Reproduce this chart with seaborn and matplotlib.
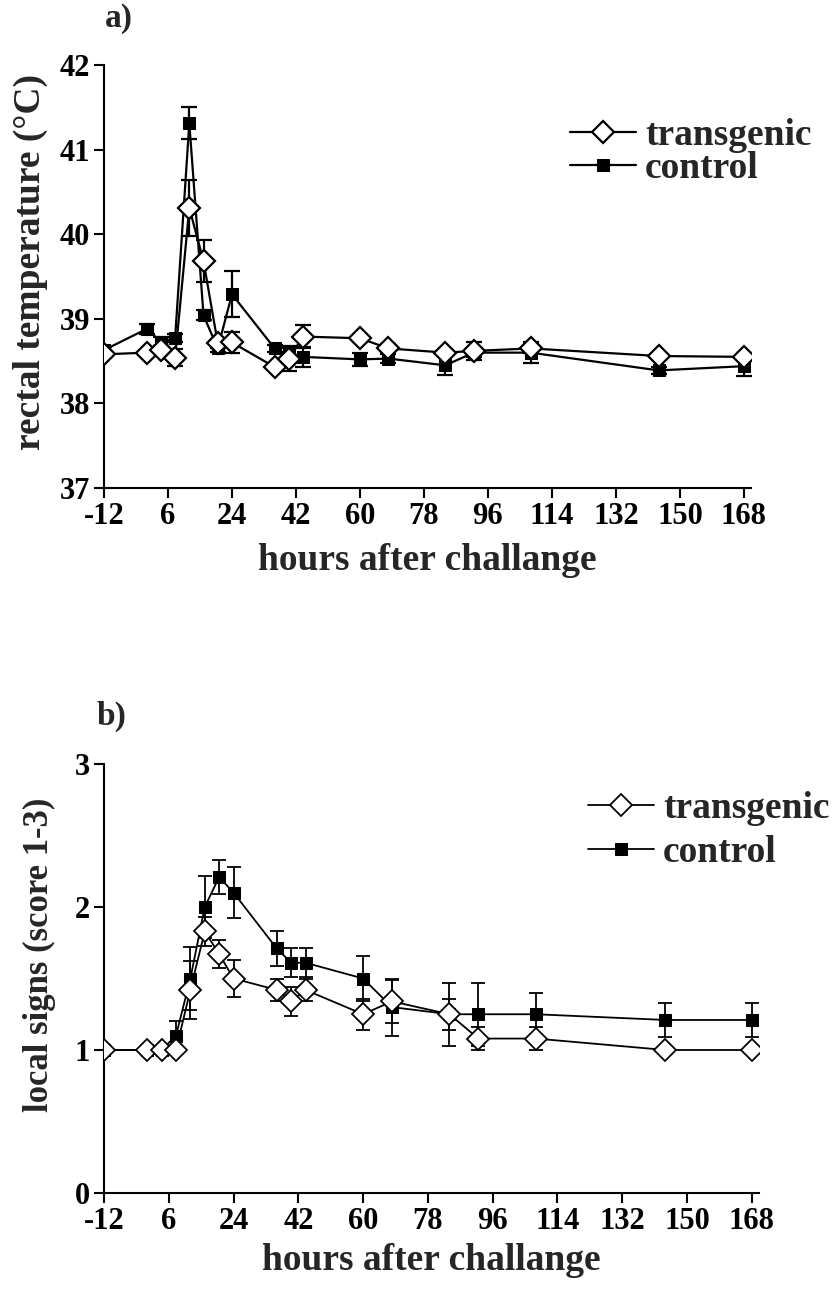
import matplotlib
matplotlib.use("Agg")
import matplotlib.pyplot as plt
import seaborn as sns
import pandas as pd

# sampling times (hours relative to challenge)
hours = [-12, 0, 4, 8, 12, 16, 20, 24, 36, 40, 44, 60, 68, 84, 92, 108, 144, 168]

# a) rectal temperature, mean and SEM
temp_transgenic = [38.58, 38.60, 38.63, 38.54, 40.31, 39.68, 38.71, 38.72, 38.43, 38.53,
                   38.79, 38.77, 38.65, 38.60, 38.62, 38.65, 38.56, 38.55]
temp_transgenic_err = [0.03, 0.03, 0.05, 0.10, 0.33, 0.25, 0.05, 0.12, 0.04, 0.15,
                       0.14, 0.04, 0.05, 0.04, 0.11, 0.06, 0.04, 0.04]
temp_control = [38.63, 38.88, 38.73, 38.77, 41.31, 39.04, 38.65, 39.29, 38.65, 38.57,
                38.55, 38.52, 38.53, 38.45, 38.60, 38.60, 38.39, 38.44]
temp_control_err = [0.04, 0.06, 0.05, 0.05, 0.19, 0.06, 0.04, 0.27, 0.04, 0.08,
                    0.12, 0.08, 0.05, 0.11, 0.05, 0.12, 0.04, 0.12]

# b) local signs score, mean and SEM
score_transgenic = [1.0, 1.0, 1.0, 1.0, 1.42, 1.83, 1.67, 1.50, 1.42, 1.34,
                    1.42, 1.25, 1.34, 1.25, 1.08, 1.08, 1.0, 1.0]
score_transgenic_err = [0, 0, 0, 0, 0.20, 0.10, 0.10, 0.13, 0.08, 0.10,
                        0.08, 0.11, 0.15, 0.22, 0.08, 0.08, 0, 0]
score_control = [1.0, 1.0, 1.0, 1.10, 1.50, 2.0, 2.21, 2.10, 1.71, 1.61,
                 1.61, 1.50, 1.30, 1.25, 1.25, 1.25, 1.21, 1.21]
score_control_err = [0, 0, 0, 0.10, 0.22, 0.22, 0.12, 0.18, 0.12, 0.10,
                     0.10, 0.16, 0.20, 0.11, 0.22, 0.15, 0.12, 0.12]

xticks = [-12, 6, 24, 42, 60, 78, 96, 114, 132, 150, 168]

sns.set_theme(style="ticks")
plt.rcParams["font.family"] = ["Liberation Serif", "DejaVu Serif"]
plt.rcParams["font.weight"] = "bold"
plt.rcParams["axes.labelweight"] = "bold"

fig = plt.figure(figsize=(8.35, 13.04), dpi=100)
ax_a = fig.add_axes([104 / 835, 1 - 488 / 1304, 647 / 835, 423 / 1304])
ax_b = fig.add_axes([104 / 835, 1 - 1193 / 1304, 655 / 835, 429 / 1304])


def draw_panel(ax, trans, trans_err, ctrl, ctrl_err, lw, capsize, ms_d, ms_s, xpad):
    df = pd.DataFrame({
        "hours": hours * 2,
        "value": list(trans) + list(ctrl),
        "group": ["transgenic"] * len(hours) + ["control"] * len(hours),
    })
    # control first, transgenic drawn on top
    ax.errorbar(hours, ctrl, yerr=ctrl_err, fmt="none", ecolor="black",
                elinewidth=lw, capsize=capsize, capthick=lw, zorder=2)
    sns.lineplot(data=df[df.group == "control"], x="hours", y="value", ax=ax,
                 color="black", lw=lw, marker="s", ms=ms_s, markerfacecolor="black",
                 markeredgecolor="black", label="control", zorder=3)
    ax.errorbar(hours, trans, yerr=trans_err, fmt="none", ecolor="black",
                elinewidth=lw, capsize=capsize, capthick=lw, zorder=4)
    sns.lineplot(data=df[df.group == "transgenic"], x="hours", y="value", ax=ax,
                 color="black", lw=lw, marker="D", ms=ms_d, markerfacecolor="white",
                 markeredgecolor="black", markeredgewidth=lw, label="transgenic", zorder=5)
    ax.set_xlim(-12, 170)
    ax.set_xticks(xticks)
    ax.set_xticklabels([str(t) for t in xticks])
    sns.despine(ax=ax)
    for s in ("left", "bottom"):
        ax.spines[s].set_linewidth(1.5)
        ax.spines[s].set_color("black")
    ax.tick_params(axis="both", direction="out", length=7, width=1.5,
                   labelsize=22, colors="black", pad=3)
    for lab in ax.get_xticklabels() + ax.get_yticklabels():
        lab.set_fontweight("bold")
    ax.set_xlabel("hours after challange", fontsize=27, fontweight="bold", labelpad=xpad)
    h, l = ax.get_legend_handles_labels()
    order = [l.index("transgenic"), l.index("control")]
    return [h[i] for i in order], [l[i] for i in order]


h, l = draw_panel(ax_a, temp_transgenic, temp_transgenic_err, temp_control,
                  temp_control_err, 1.6, 6, 11, 8.5, 9)
ax_a.set_ylim(37, 42)
ax_a.set_yticks([37, 38, 39, 40, 41, 42])
ax_a.set_ylabel("rectal temperature (°C)", fontsize=27, fontweight="bold",
                va="center")
ax_a.yaxis.set_label_coords(-0.114, 0.534)
ax_a.legend(h, l, loc="center left", bbox_to_anchor=(570 / 835, 1 - 152 / 1304),
            bbox_transform=fig.transFigure, frameon=False, handlelength=1.75,
            handletextpad=0.25, labelspacing=-0.06, borderpad=0, borderaxespad=0,
            prop={"weight": "bold", "size": 27})

h, l = draw_panel(ax_b, score_transgenic, score_transgenic_err, score_control,
                  score_control_err, 1.3, 5, 11, 8.5, 5)
ax_b.set_ylim(0, 3)
ax_b.set_yticks([0, 1, 2, 3])
ax_b.set_ylabel("local signs (score 1-3)", fontsize=25, fontweight="bold",
                va="center")
ax_b.yaxis.set_label_coords(-0.099, 0.555)
ax_b.legend(h, l, loc="center left", bbox_to_anchor=(588 / 835, 1 - 831 / 1304),
            bbox_transform=fig.transFigure, frameon=False, handlelength=1.75,
            handletextpad=0.25, labelspacing=0.24, borderpad=0, borderaxespad=0,
            prop={"weight": "bold", "size": 27})

fig.text(105 / 835, 1 - 18 / 1304, "a)", fontsize=24, fontweight="bold", va="center")
fig.text(97 / 835, 1 - 716 / 1304, "b)", fontsize=24, fontweight="bold", va="center")

fig.savefig("out.png", dpi=100)
